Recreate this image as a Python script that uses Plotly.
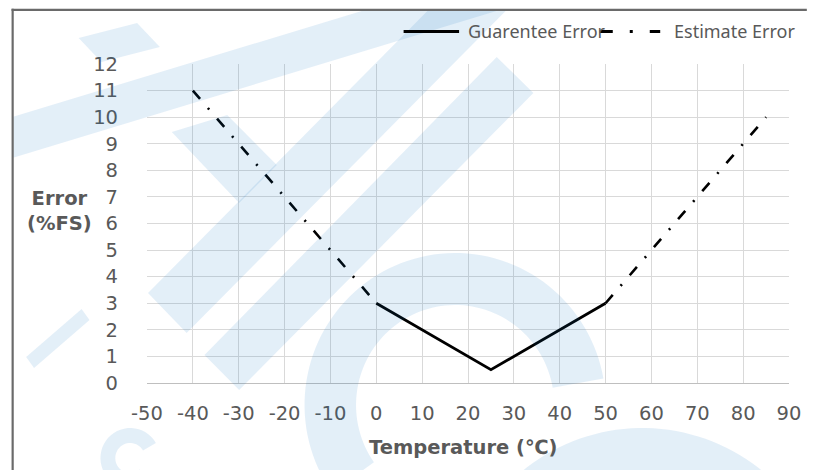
import numpy as np
import plotly.graph_objects as go

# ---- data ----
x_ticks = [-50, -40, -30, -20, -10, 0, 10, 20, 30, 40, 50, 60, 70, 80, 90]
y_ticks = list(range(0, 13))
guarantee_temp = [0, 25, 50]
guarantee_err = [3, 0.5, 3]
estimate_temp = [-40, 0, None, 50, 85]
estimate_err = [11, 3, None, 3, 10]
series_names = ["Guarentee Error", "Estimate Error"]

W, H = 813, 470
ML, MR, MT, MB = 147, 18, 64, 87
PW, PH = W - ML - MR, H - MT - MB


def px(xp, yp):
    return (xp - ML) / PW, (H - MB - yp) / PH


def poly(points, close=True):
    s = ""
    for i, (a, b) in enumerate(points):
        X, Y = px(a, b)
        s += ("M" if i == 0 else "L") + f"{X:.5f},{Y:.5f} "
    return s + ("Z" if close else "")


def ring(cx, cy, r_out, r_in, a0, a1, n=80):
    t = np.radians(np.linspace(a0, a1, n))
    outer = [(cx + r_out * np.cos(a), cy - r_out * np.sin(a)) for a in t]
    inner = [(cx + r_in * np.cos(a), cy - r_in * np.sin(a)) for a in t[::-1]]
    return poly(outer + inner)


DASH = "11px,12px,2px,12px"
FONT = "DejaVu Sans"
GREY = "#595959"

fig = go.Figure()
fig.add_trace(go.Scatter(x=estimate_temp, y=estimate_err, mode="lines",
                         name=series_names[1], connectgaps=False,
                         line=dict(color="black", width=2.6, dash=DASH),
                         showlegend=False))
fig.add_trace(go.Scatter(x=guarantee_temp, y=guarantee_err, mode="lines",
                         name=series_names[0],
                         line=dict(color="black", width=2.8),
                         showlegend=False))

wm = "rgba(0,112,192,0.11)"
shapes = []
for path in [
    poly([(11, 117), (11, 158), (503, 10), (367, 10)]),
    poly([(78, 38), (137, 23), (160, 47), (101, 62)]),
    poly([(172, 132), (228, 115), (278, 165), (240, 203)]),
    poly([(148, 293), (187, 333), (510, 10), (431, 10)]),
    poly([(205, 355), (240, 390), (537, 93), (500, 57)]),
    poly([(25, 357), (33, 368), (89, 320), (81, 309)]),
    ring(458, 405, 152, 100, 10, 215),
    ring(647, 620, 192, 0.1, 0, 180),
    ring(130, 458, 30, 15, 30, 310, 40),
]:
    shapes.append(dict(type="path", path=path, xref="paper", yref="paper",
                       fillcolor=wm, line=dict(width=0), layer="above"))

# outer frame: left and top edges of the chart area
for strip in [[(10.3, 8.8), (12.5, 8.8), (12.5, 470), (10.3, 470)],
              [(10.3, 8.8), (813, 8.8), (813, 11), (10.3, 11)]]:
    shapes.append(dict(type="path", xref="paper", yref="paper", path=poly(strip),
                       fillcolor="#6a6a6a", line=dict(width=0), layer="above"))

# legend samples
lx0, ly = px(406, 31.5)
lx1, _ = px(462, 31.5)
shapes.append(dict(type="line", xref="paper", yref="paper", x0=lx0, x1=lx1, y0=ly, y1=ly,
                   line=dict(color="black", width=2.8)))
dx0, _ = px(604, 31.5)
dx1, _ = px(665, 31.5)
shapes.append(dict(type="line", xref="paper", yref="paper", x0=dx0, x1=dx1, y0=ly, y1=ly,
                   line=dict(color="black", width=2.8, dash="13px,17px,3px,17px")))

annotations = []
gx, _ = px(469, 0)
annotations.append(dict(text=series_names[0], x=gx, y=ly, xref="paper", yref="paper",
                        xanchor="left", yanchor="middle", showarrow=False,
                        font=dict(family="Noto Sans", size=18, color=GREY)))
ex, _ = px(677, 0)
annotations.append(dict(text=series_names[1], x=ex, y=ly, xref="paper", yref="paper",
                        xanchor="left", yanchor="middle", showarrow=False,
                        font=dict(family="Noto Sans", size=18, color=GREY)))
tx, ty = px(59, 210.5)
annotations.append(dict(text="<b>Error</b><br><b>(%FS)</b>", x=tx, y=ty, xref="paper", yref="paper",
                        xanchor="center", yanchor="middle", showarrow=False, align="center",
                        font=dict(family=FONT, size=19.5, color=GREY)))
xx, xy = px(466, 447)
annotations.append(dict(text="<b>Temperature (℃)</b>", x=xx, y=xy, xref="paper", yref="paper",
                        xanchor="center", yanchor="middle", showarrow=False,
                        font=dict(family=FONT, size=19.5, color=GREY)))

fig.update_layout(
    width=W, height=H,
    margin=dict(l=ML, r=MR, t=MT, b=MB, pad=0),
    paper_bgcolor="white", plot_bgcolor="white",
    showlegend=False,
    shapes=shapes, annotations=annotations,
    xaxis=dict(range=[-50, 90], tickvals=x_ticks, ticktext=[str(v) for v in x_ticks],
               showgrid=True, gridcolor="#d9d9d9", gridwidth=1,
               showline=True, linecolor="#bfbfbf", linewidth=1.3, mirror=False,
               zeroline=False, ticks="", ticklabelstandoff=12,
               tickfont=dict(family=FONT, size=19.5, color=GREY), fixedrange=True),
    yaxis=dict(range=[0, 12], tickvals=y_ticks,
               showgrid=True, gridcolor="#d9d9d9", gridwidth=1,
               showline=False, zeroline=False, ticks="", ticklabelstandoff=28,
               tickfont=dict(family=FONT, size=19.5, color=GREY), fixedrange=True),
)

fig.write_html("out.html", config={"displayModeBar": False},
               post_script="document.body.style.margin='0px';document.body.style.padding='0px';")
